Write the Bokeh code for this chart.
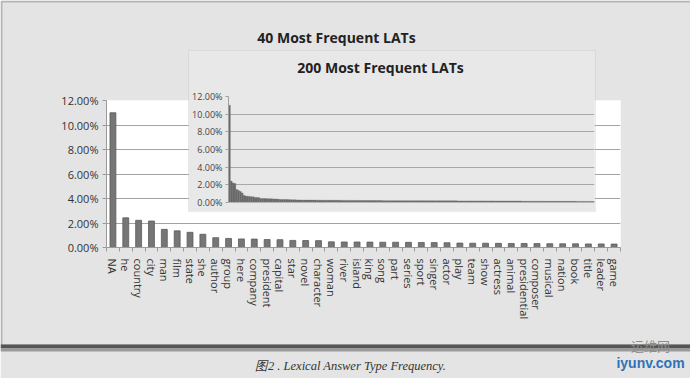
from bokeh.plotting import figure
from bokeh.layouts import column
from bokeh.models import (Label, FixedTicker, PrintfTickFormatter, Range1d,
                          GridBox, ColumnDataSource, BoxAnnotation)
from bokeh.embed import file_html
from bokeh.resources import INLINE

# ---------------- data ----------------
lat_labels = ["NA", "he", "country", "city", "man", "film", "state", "she",
              "author", "group", "here", "company", "president", "capital",
              "star", "novel", "character", "woman", "river", "island", "king",
              "song", "part", "series", "sport", "singer", "actor", "play",
              "team", "show", "actress", "animal", "presidential", "composer",
              "musical", "nation", "book", "title", "leader", "game"]

top40_pct = [11.00, 2.42, 2.22, 2.16, 1.48, 1.36, 1.24, 1.08, 0.80, 0.74,
             0.70, 0.69, 0.65, 0.64, 0.58, 0.57, 0.56, 0.46, 0.45, 0.45,
             0.44, 0.43, 0.43, 0.42, 0.41, 0.40, 0.39, 0.36, 0.35, 0.35,
             0.34, 0.33, 0.33, 0.32, 0.31, 0.30, 0.30, 0.29, 0.29, 0.28]

rank41_80_pct = [0.28, 0.28, 0.28, 0.27, 0.27, 0.27, 0.27, 0.27, 0.26, 0.26,
                 0.26, 0.26, 0.26, 0.26, 0.25, 0.25, 0.25, 0.25, 0.25, 0.25,
                 0.25, 0.24, 0.24, 0.24, 0.24, 0.24, 0.24, 0.24, 0.24, 0.23,
                 0.23, 0.23, 0.23, 0.23, 0.23, 0.22, 0.22, 0.22, 0.22, 0.22]

rank81_120_pct = [0.22, 0.22, 0.22, 0.22, 0.21, 0.21, 0.21, 0.21, 0.21, 0.21,
                  0.21, 0.21, 0.21, 0.21, 0.21, 0.20, 0.20, 0.20, 0.20, 0.20,
                  0.20, 0.20, 0.20, 0.20, 0.20, 0.20, 0.20, 0.20, 0.20, 0.19,
                  0.19, 0.19, 0.19, 0.19, 0.19, 0.19, 0.19, 0.19, 0.19, 0.19]

rank121_160_pct = [0.19, 0.19, 0.19, 0.19, 0.19, 0.18, 0.18, 0.18, 0.18, 0.18,
                   0.18, 0.18, 0.18, 0.18, 0.18, 0.18, 0.18, 0.18, 0.18, 0.18,
                   0.18, 0.18, 0.18, 0.18, 0.18, 0.17, 0.17, 0.17, 0.17, 0.17,
                   0.17, 0.17, 0.17, 0.17, 0.17, 0.17, 0.17, 0.17, 0.17, 0.17]

rank161_200_pct = [0.14, 0.14, 0.14, 0.14, 0.14, 0.14, 0.14, 0.14, 0.14, 0.14,
                   0.14, 0.14, 0.14, 0.13, 0.13, 0.13, 0.13, 0.13, 0.13, 0.13,
                   0.13, 0.13, 0.13, 0.13, 0.13, 0.13, 0.13, 0.13, 0.13, 0.13,
                   0.12, 0.12, 0.12, 0.12, 0.12, 0.12, 0.12, 0.12, 0.12, 0.12]

y_ticks = [0, 2, 4, 6, 8, 10, 12]

main_title = "40 Most Frequent LATs"
inset_title = "200 Most Frequent LATs"
caption = "图2 . Lexical Answer Type Frequency."

# ---------------- derived tables ----------------
top200_pct = top40_pct + rank41_80_pct + rank81_120_pct + rank121_160_pct + rank161_200_pct
src40 = ColumnDataSource(dict(x=list(range(len(top40_pct))), top=top40_pct, lab=lat_labels))
src200 = ColumnDataSource(dict(x=list(range(len(top200_pct))), top=top200_pct))

FONT = "Open Sans"
W, H = 690, 378
BG = "#e4e4e4"
# main plot frame on the page (left, right, top, bottom)
FL, FR, FT, FB = 106, 620, 100, 247

# ---------------- main chart (bottom layer) ----------------
p = figure(width=W, height=H, x_range=Range1d(-0.5, 39.5), y_range=Range1d(0, 12),
           toolbar_location=None, output_backend="svg", title_location=None,
           min_border_left=FL, min_border_right=W - FR, min_border_top=FT,
           min_border_bottom=H - FB)
p.border_fill_color = BG
p.background_fill_color = "white"
p.outline_line_color = None

p.vbar(x="x", top="top", width=0.46, source=src40,
       fill_color="#767676", line_color="#5c5c5c", line_width=0.8)

p.xgrid.visible = False
p.ygrid.ticker = FixedTicker(ticks=y_ticks)
p.ygrid.grid_line_color = "#a3a3a3"

xa = p.xaxis[0]
xa.ticker = FixedTicker(ticks=list(range(len(lat_labels))),
                        minor_ticks=[i - 0.5 for i in range(len(lat_labels) + 1)])
xa.major_label_overrides = {i: lab for i, lab in enumerate(lat_labels)}
xa.major_label_orientation = "vertical"
xa.major_tick_line_color = None
xa.major_tick_out = 0
xa.major_tick_in = 0
xa.minor_tick_out = 4
xa.minor_tick_in = 0
xa.minor_tick_line_color = "#9a9a9a"
xa.axis_line_color = "#9a9a9a"
xa.major_label_standoff = 7
xa.major_label_text_font = FONT
xa.major_label_text_font_size = "11px"
xa.major_label_text_color = "#333333"

ya = p.yaxis[0]
ya.ticker = FixedTicker(ticks=y_ticks)
ya.formatter = PrintfTickFormatter(format="%.2f%%")
ya.axis_line_color = "#9a9a9a"
ya.major_tick_line_color = "#9a9a9a"
ya.major_tick_out = 4
ya.major_tick_in = 0
ya.minor_tick_line_color = None
ya.major_label_standoff = 4
ya.major_label_text_font = FONT
ya.major_label_text_font_size = "11px"
ya.major_label_text_color = "#333333"

# ---------------- inset chart (middle layer) ----------------
IW, IH = 407, 161
IX, IY = 188, 50          # top-left corner of the inset box on the page
ins = figure(width=IW, height=IH, x_range=Range1d(-0.5, 199.5), y_range=Range1d(0, 12),
             x_axis_type=None, toolbar_location=None, output_backend="svg",
             title_location=None,
             min_border_left=40, min_border_right=1, min_border_top=46,
             min_border_bottom=9)
ins.background_fill_color = "#e8e8e8"
ins.border_fill_color = "#e8e8e8"
ins.outline_line_color = None
ins.vbar(x="x", top="top", width=1.0, source=src200,
         fill_color="#6a6a6a", line_color="#6a6a6a", line_width=0.3)
ins.xgrid.visible = False
ins.ygrid.ticker = FixedTicker(ticks=y_ticks)
ins.ygrid.grid_line_color = "#a8a8a8"
iy = ins.yaxis[0]
iy.ticker = FixedTicker(ticks=y_ticks)
iy.formatter = PrintfTickFormatter(format="%.2f%%")
iy.axis_line_color = "#a0a0a0"
iy.major_tick_line_color = "#a0a0a0"
iy.major_tick_out = 3
iy.major_tick_in = 0
iy.minor_tick_line_color = None
iy.major_label_standoff = 3
iy.major_label_text_font = FONT
iy.major_label_text_font_size = "9px"
iy.major_label_text_color = "#444444"
ins.margin = (IY, 0, 0, IX)
ins.align = "start"
ins_box = column(ins)
ins_box.align = "start"

# ---------------- overlay (top layer: texts and frame) ----------------
# frame covers the whole page; its ranges are page pixels (y measured upward)
ov = figure(width=W, height=H, x_range=Range1d(0, W), y_range=Range1d(0, H),
            x_axis_type=None, y_axis_type=None, toolbar_location=None,
            output_backend="svg", title_location=None,
            min_border_left=0, min_border_right=0, min_border_top=0,
            min_border_bottom=0)
ov.background_fill_alpha = 0
ov.border_fill_alpha = 0
ov.outline_line_color = None
ov.align = "start"
ov_box = column(ov)
ov_box.align = "start"


def Y(y):
    return H - y


# outer chart frame and its bottom shadow
ov.add_layout(BoxAnnotation(left=1, right=W + 2, top=Y(1), bottom=Y(345),
                            fill_alpha=0, line_color="#4a4a4a", line_width=2))
ov.add_layout(BoxAnnotation(left=0, right=W, top=Y(344), bottom=Y(348),
                            fill_color="#555555", fill_alpha=1, line_alpha=0))
ov.add_layout(BoxAnnotation(left=0, right=W, top=Y(348), bottom=Y(351),
                            fill_color="#9a9a9a", fill_alpha=1, line_alpha=0))
# inset border
ov.add_layout(BoxAnnotation(left=IX, right=IX + IW, top=Y(IY), bottom=Y(IY + IH),
                            fill_alpha=0, line_color="#bcbcbc", line_width=1))

ov.add_layout(Label(x=336, y=Y(37), text=main_title, text_align="center",
                    text_baseline="middle", text_font=FONT, text_font_style="bold",
                    text_font_size="14px", text_color="#222222"))
ov.add_layout(Label(x=380, y=Y(67), text=inset_title, text_align="center",
                    text_baseline="middle", text_font=FONT, text_font_style="bold",
                    text_font_size="14px", text_color="#222222"))
ov.add_layout(Label(x=350, y=Y(365), text=caption, text_align="center",
                    text_baseline="middle", text_font="Liberation Serif",
                    text_font_style="italic", text_font_size="12.5px",
                    text_color="#333333"))
ov.add_layout(Label(x=650, y=Y(345), text="运维网", text_align="center",
                    text_baseline="middle", text_font="Noto Sans CJK SC",
                    text_font_size="13px", text_color="#8c8c8c"))
ov.add_layout(Label(x=650, y=Y(362), text="iyunv.com", text_align="center",
                    text_baseline="middle", text_font="Liberation Sans",
                    text_font_style="bold", text_font_size="14px",
                    text_color="#2f72b8"))

p.align = "start"
layout = GridBox(children=[(p, 0, 0), (ins_box, 0, 0), (ov_box, 0, 0)])

open("out.html", "w").write(file_html(layout, INLINE))
